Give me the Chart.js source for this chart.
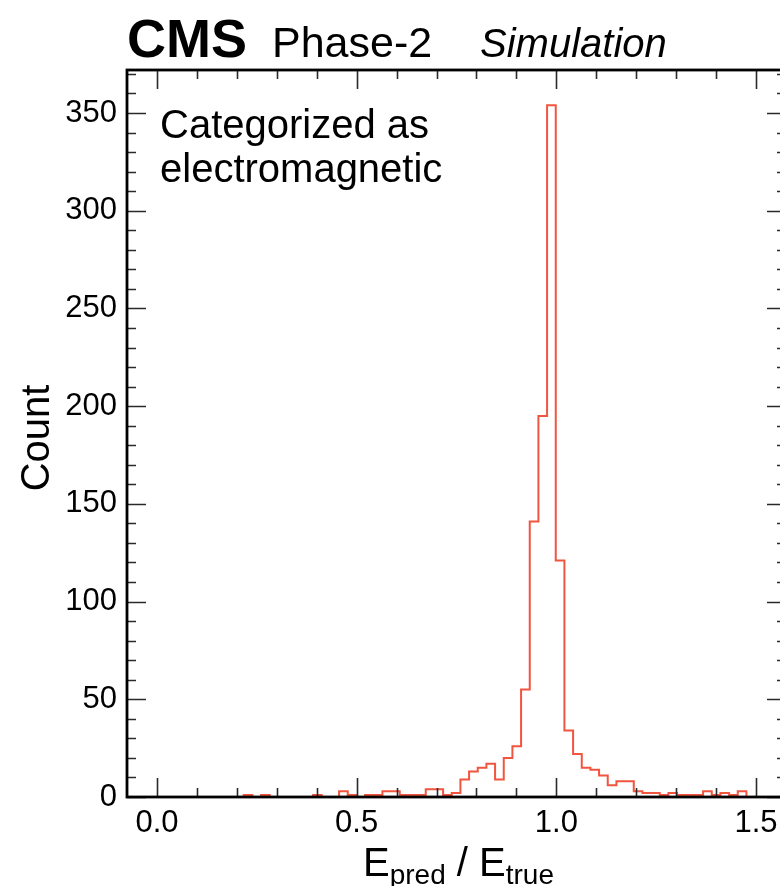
<!DOCTYPE html>
<html>
<head>
<meta charset="utf-8">
<script src="https://cdn.jsdelivr.net/npm/chart.js@4.4.1/dist/chart.umd.min.js"></script>
<style>
  html, body { margin: 0; padding: 0; background: #fff; overflow: hidden; }
  #wrap { position: absolute; left: 0; top: 0; width: 800px; height: 886px; }
</style>
</head>
<body>
<div id="wrap"><canvas id="hist" width="800" height="886"></canvas></div>
<script>
// E_pred / E_true histogram, showers categorized as electromagnetic
const binStart = 0.1956;   // lower edge of the first bin
const binWidth = 0.0217;
const counts = [
  0, 1, 0, 1, 0, 0, 0, 0, 0, 1,
  0, 0, 3, 1, 0, 1, 1, 3, 3, 1,
  1, 1, 4, 4, 1, 2, 9, 13, 15, 17,
  9, 20, 26, 55, 141, 195, 354, 121, 34, 22,
  15, 14, 11, 6, 8, 8, 3, 2, 2, 1,
  2, 1, 1, 1, 3, 1, 2, 1, 3, 0,
  0
];
const xRange = [-0.075, 1.575];
const yRange = [0, 372];
const xMajor = [0.0, 0.5, 1.0, 1.5];
const yMajor = [0, 50, 100, 150, 200, 250, 300, 350];
const xMinorStep = 0.1;
const yMinorStep = 10;

const FONT = '"Liberation Sans", Arial, Helvetica, sans-serif';
const lineColor = '#f2553f';

// step outline: rise at the first edge, flat over each bin, drop at the last edge
const points = [{ x: binStart, y: 0 }];
counts.forEach((c, i) => points.push({ x: binStart + i * binWidth, y: c }));
points.push({ x: binStart + counts.length * binWidth, y: 0 });

// ticks point inward on all four sides, then the frame on top
const frame = {
  id: 'frame',
  afterDatasetsDraw(chart) {
    const { ctx, chartArea: a, scales: { x, y } } = chart;
    ctx.save();
    ctx.strokeStyle = '#2a2a2a';
    ctx.lineWidth = 1.6;
    const xt = (v, len) => {
      const px = Math.round(x.getPixelForValue(v)) + 0.5;
      ctx.beginPath();
      ctx.moveTo(px, a.bottom); ctx.lineTo(px, a.bottom - len);
      ctx.moveTo(px, a.top); ctx.lineTo(px, a.top + len);
      ctx.stroke();
    };
    const yt = (v, len) => {
      const py = Math.round(y.getPixelForValue(v)) + 0.5;
      ctx.beginPath();
      ctx.moveTo(a.left, py); ctx.lineTo(a.left + len, py);
      ctx.moveTo(a.right, py); ctx.lineTo(a.right - len, py);
      ctx.stroke();
    };
    for (let v = 0; v <= xRange[1] + 1e-9; v += xMinorStep) {
      const r = Math.round(v * 10) / 10;
      if (!xMajor.includes(r)) xt(r, 9);
    }
    xMajor.forEach(v => xt(v, 19));
    for (let v = 0; v <= yRange[1]; v += yMinorStep) {
      if (!yMajor.includes(v)) yt(v, 9);
    }
    yMajor.forEach(v => yt(v, 19));

    ctx.strokeStyle = '#000';
    ctx.lineWidth = 2.8;
    ctx.strokeRect(a.left, a.top, a.right - a.left, a.bottom - a.top);
    ctx.restore();
  }
};

const labels = {
  id: 'labels',
  afterDraw(chart) {
    const { ctx, chartArea: a } = chart;
    ctx.save();
    ctx.fillStyle = '#000';
    ctx.textBaseline = 'alphabetic';
    ctx.textAlign = 'left';

    // experiment header
    ctx.font = 'bold 54px ' + FONT;
    ctx.fillText('CMS', 127, 57);
    ctx.font = '43px ' + FONT;
    ctx.fillText('Phase-2', 272, 57);
    ctx.font = 'italic 40px ' + FONT;
    ctx.fillText('Simulation', 480, 57);

    // category note
    ctx.font = '40px ' + FONT;
    ctx.fillText('Categorized as', 160, 138);
    ctx.fillText('electromagnetic', 160, 182);

    // y title
    ctx.save();
    ctx.translate(38, 438);
    ctx.rotate(-Math.PI / 2);
    ctx.textAlign = 'center';
    ctx.textBaseline = 'middle';
    ctx.font = '40px ' + FONT;
    ctx.fillText('Count', 0, 0);
    ctx.restore();

    // x title with subscripts
    const big = '40px ' + FONT, small = '28px ' + FONT;
    const parts = [['E', big, 0], ['pred', small, 8], [' / ', big, 0], ['E', big, 0], ['true', small, 8]];
    let w = 0;
    parts.forEach(p => { ctx.font = p[1]; w += ctx.measureText(p[0]).width; });
    let cx = (a.left + a.right) / 2 - w / 2 + 2;
    parts.forEach(p => {
      ctx.font = p[1];
      ctx.fillText(p[0], cx, 876 + p[2]);
      cx += ctx.measureText(p[0]).width;
    });
    ctx.restore();
  }
};

new Chart(document.getElementById('hist'), {
  type: 'line',
  data: {
    datasets: [{
      data: points,
      stepped: 'before',
      borderColor: lineColor,
      borderWidth: 2,
      pointRadius: 0,
      fill: false
    }]
  },
  options: {
    responsive: false,
    animation: false,
    layout: { padding: { top: 70, left: 0, right: 14, bottom: 0 } },
    plugins: { legend: { display: false }, tooltip: { enabled: false } },
    scales: {
      x: {
        type: 'linear',
        min: xRange[0],
        max: xRange[1],
        grid: { display: false, drawTicks: false },
        border: { display: false },
        ticks: {
          stepSize: 0.5,
          includeBounds: false,
          autoSkip: false,
          maxRotation: 0,
          padding: 8,
          color: '#000',
          font: { family: FONT, size: 31 },
          callback: v => v.toFixed(1)
        },
        afterFit: s => { s.height = 89; s.paddingLeft = 0; s.paddingRight = 0; }
      },
      y: {
        min: yRange[0],
        max: yRange[1],
        grid: { display: false, drawTicks: false },
        border: { display: false },
        ticks: {
          stepSize: 50,
          includeBounds: false,
          padding: 10,
          color: '#000',
          font: { family: FONT, size: 31 }
        },
        afterFit: s => { s.width = 127; }
      }
    }
  },
  plugins: [frame, labels]
});
</script>
</body>
</html>
